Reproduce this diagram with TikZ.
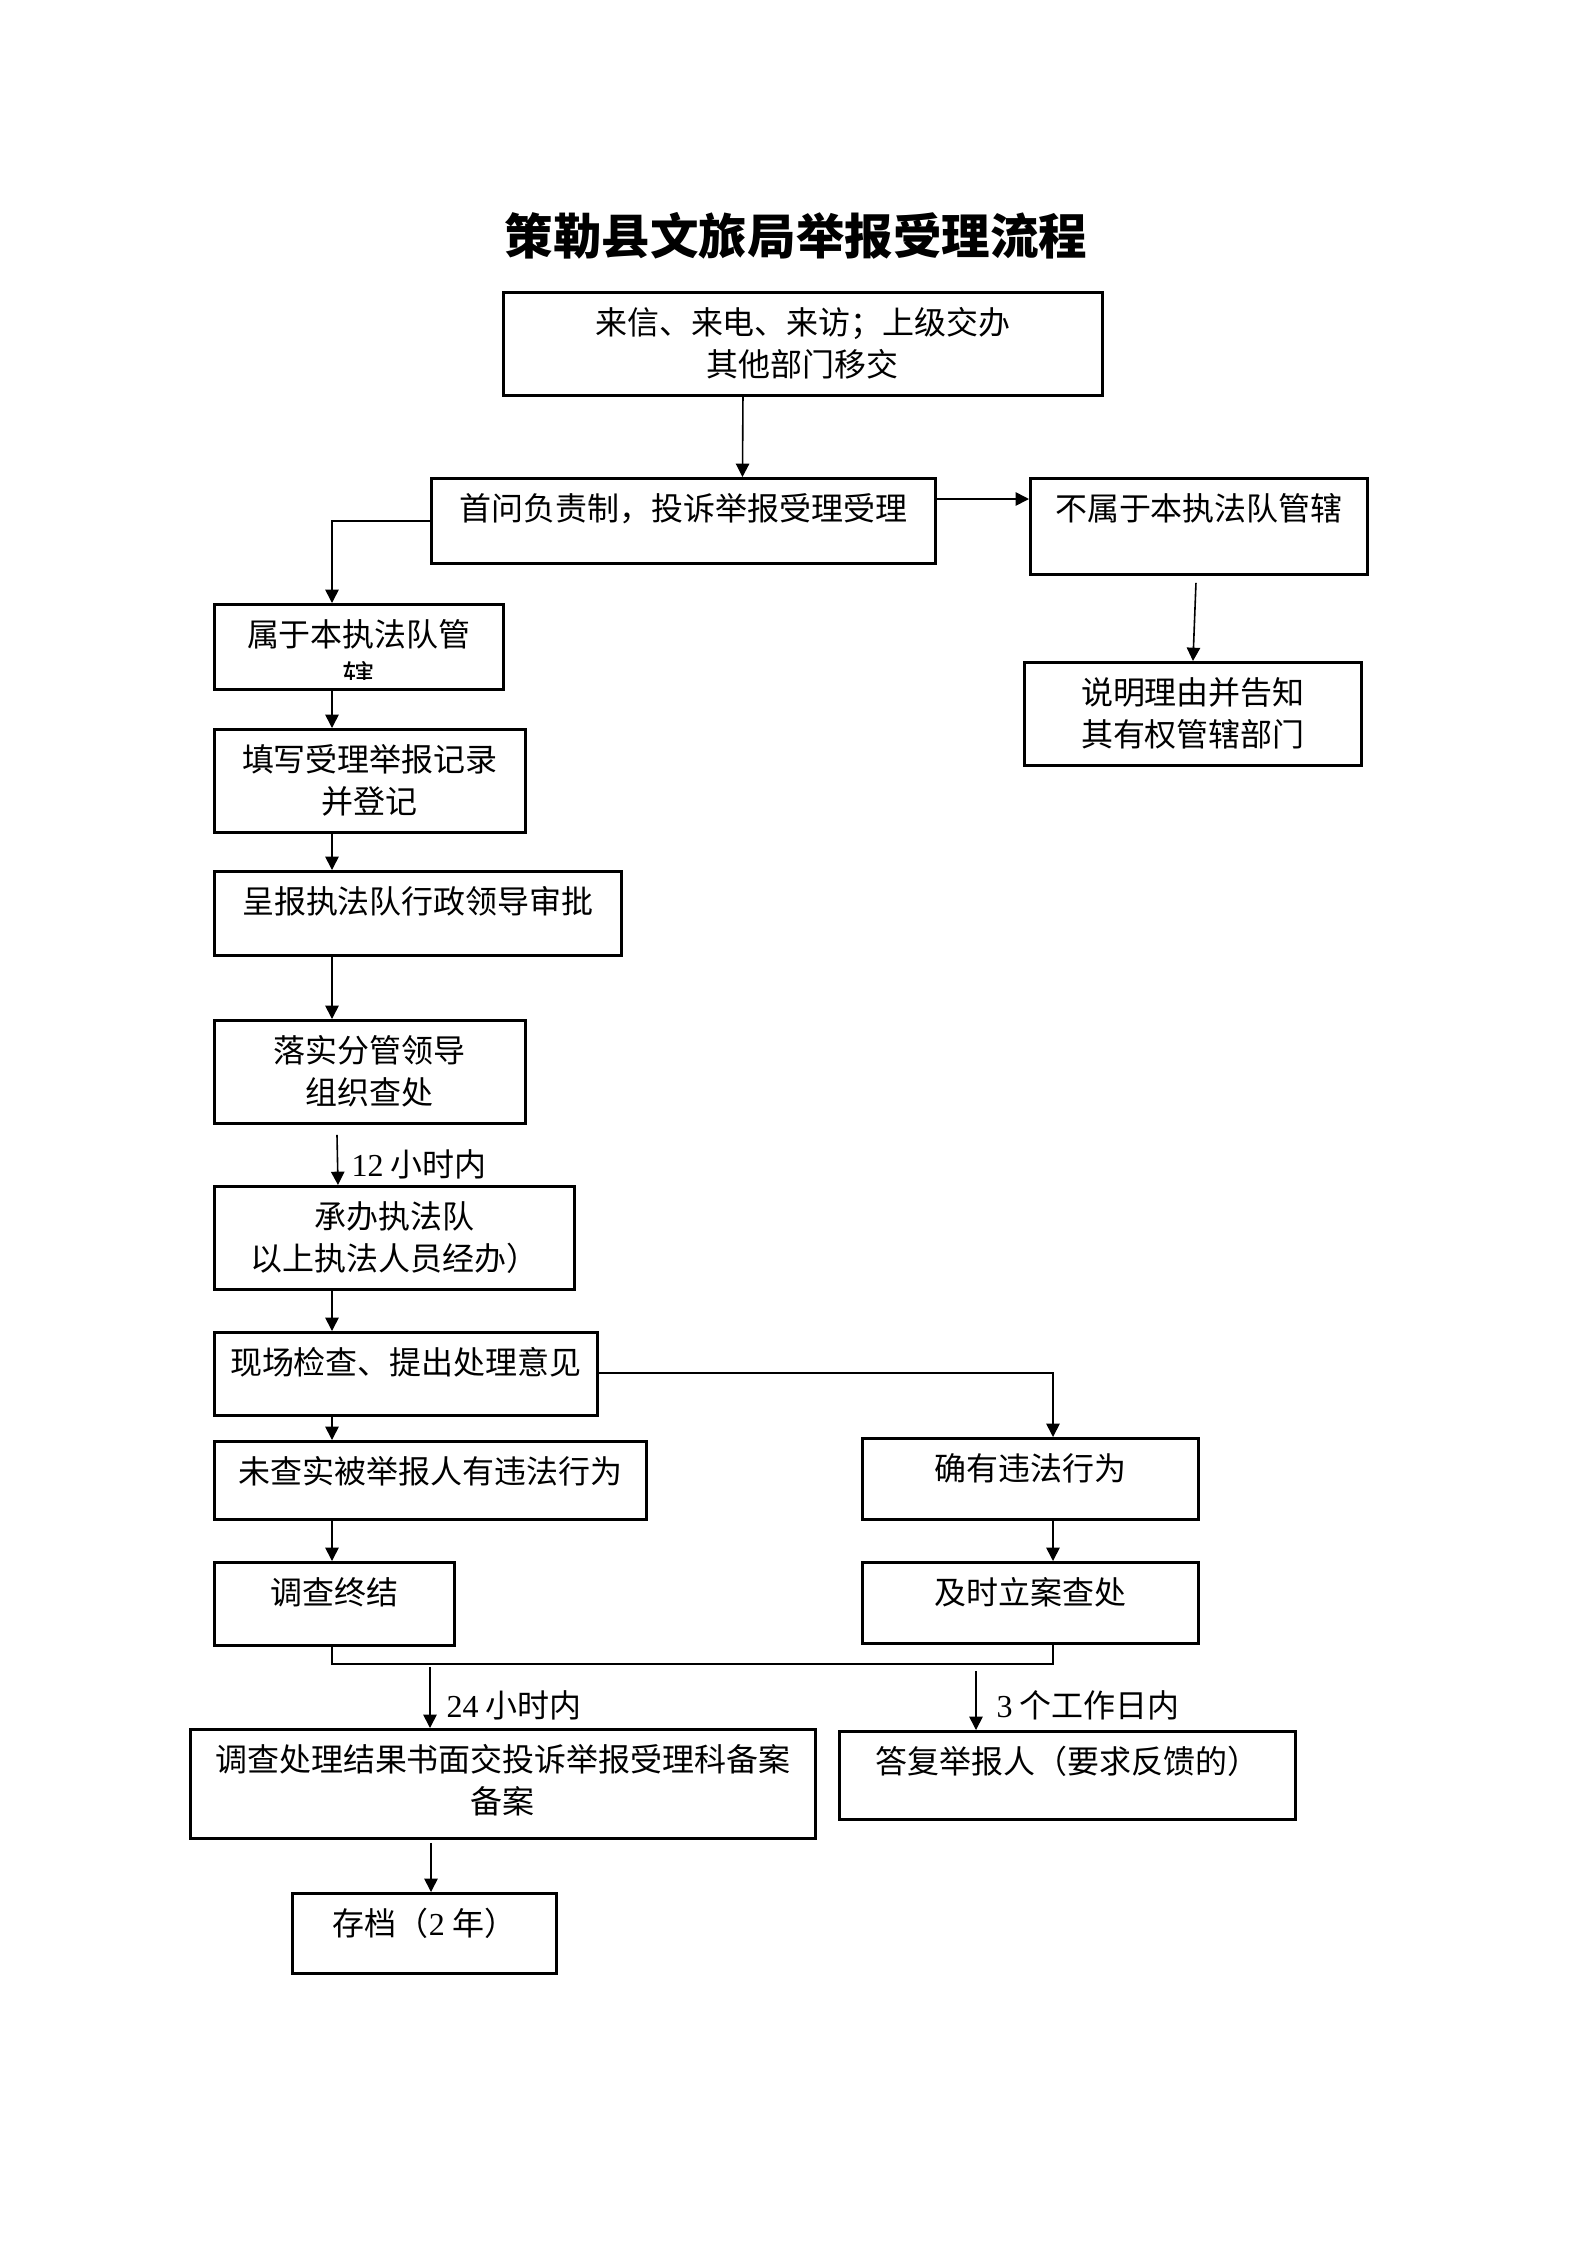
\documentclass[tikz,border=0pt]{standalone}
\usepackage{fontspec}
\setmainfont{Noto Sans CJK SC}
\newfontfamily\latin{Liberation Serif}
\usetikzlibrary{calc,arrows.meta}
\newcommand{\pxsize}{0.3751pt}
\newcommand{\flowbox}[6]{
	\node[box, minimum width=#4*\pxsize, minimum height=#5*\pxsize] (#1) at (#2,#3) {};
	\node[boxtext] (#1-text) at ($(#1.north)+(0,16)$) {#6};
}
\tikzset{
	box/.style={draw, line width=1.1pt, anchor=north west, inner sep=0pt},
	boxtext/.style={anchor=north, align=center, inner sep=0pt, font=\fontsize{12}{15.75}\selectfont},
	flowarrow/.style={line width=0.6pt, -{Triangle[length=5pt,width=5pt]}},
	timenote/.style={anchor=west, inner sep=0pt, font=\fontsize{12}{15.75}\selectfont},
}

\begin{document}
\begin{tikzpicture}[x=\pxsize,y=-\pxsize]
	\path[fill=white, use as bounding box] (0,0) rectangle (1587,2245);
	\coordinate (lcol) at (332,0);
	\coordinate (rcol) at (1053,0);
	\coordinate (merge) at (0,1664);
	\coordinate (t24) at (430,1667);
	\coordinate (t3d) at (976,1671);

	\node[font=\bfseries\fontsize{18.2}{18.2}\selectfont] (title) at (796,236) {策勒县文旅局举报受理流程};

	\flowbox{b1}{502}{291}{599}{103}{来信、来电、来访；上级交办\\其他部门移交}
	\flowbox{b2}{430}{477}{504}{85}{首问负责制，投诉举报受理受理}
	\flowbox{b3}{1029}{477}{337}{96}{不属于本执法队管辖}
	\flowbox{b4}{1023}{661}{337}{103}{说明理由并告知\\其有权管辖部门}
	\flowbox{b5}{213}{603}{289}{85}{属于本执法队管}
	\flowbox{b6}{213}{728}{311}{103}{填写受理举报记录\\并登记}
	\flowbox{b7}{213}{870}{407}{84}{呈报执法队行政领导审批}
	\flowbox{b8}{213}{1019}{311}{103}{落实分管领导\\组织查处}
	\flowbox{b9}{213}{1185}{360}{103}{承办执法队\\以上执法人员经办）}
	\flowbox{b10}{213}{1331}{383}{83}{现场检查、提出处理意见}
	\flowbox{b11}{213}{1440}{432}{78}{未查实被举报人有违法行为}
	\flowbox{b12}{861}{1437}{336}{81}{确有违法行为}
	\flowbox{b13}{213}{1561}{240}{83}{调查终结}
	\flowbox{b14}{861}{1561}{336}{81}{及时立案查处}
	\flowbox{b15}{189}{1728}{625}{109}{调查处理结果书面交投诉举报受理科备案\\备案}
	\flowbox{b16}{838}{1730}{456}{88}{答复举报人（要求反馈的）}
	\flowbox{b17}{291}{1892}{264}{80}{存档（{\latin 2} 年）}

	\begin{scope}
		\clip (b5.north west) rectangle ($(b5.south east)+(0,-11)$);
		\node[boxtext] (b5-cut) at ($(b5.north)+(0,58)$) {辖};
	\end{scope}

	\draw[flowarrow] ($(b1.south)+(-60,0)$) -- ($(b2.north)+(59,0)$);
	\draw[flowarrow] ($(b2.north east)+(0,22)$) -- ($(b3.north west)+(0,22)$);
	\draw[flowarrow] ($(b3.south)+(-3,7)$) -- (b4.north);
	\draw[flowarrow] (b2.west) -| (b5.north -| lcol);
	\foreach \a/\b in {b5/b6, b6/b7, b7/b8, b9/b10, b10/b11, b11/b13}
		\draw[flowarrow] (\a.south -| lcol) -- (\b.north -| lcol);
	\draw[flowarrow] ($(b8.south -| lcol)+(5,10)$) -- ($(b9.north -| lcol)+(6,0)$);
	\node[timenote] (n12) at (351,1164) {{\latin 12} 小时内};

	\draw[flowarrow] ($(b10.north east)+(0,42)$) -| (b12.north -| rcol);
	\draw[flowarrow] (b12.south -| rcol) -- (b14.north -| rcol);
	\draw (b13.south -| lcol) |- (merge -| rcol) -- (b14.south -| rcol);

	\draw[flowarrow] (t24) -- (b15.north -| t24);
	\node[timenote] (n24) at (446,1705) {{\latin 24} 小时内};
	\draw[flowarrow] (t3d) -- (b16.north -| t3d);
	\node[timenote] (n3d) at (996,1705) {{\latin 3} 个工作日内};

	\draw[flowarrow] ($(b15.south west)+(242,3)$) -- ($(b17.north west)+(140,0)$);
\end{tikzpicture}
\end{document}
